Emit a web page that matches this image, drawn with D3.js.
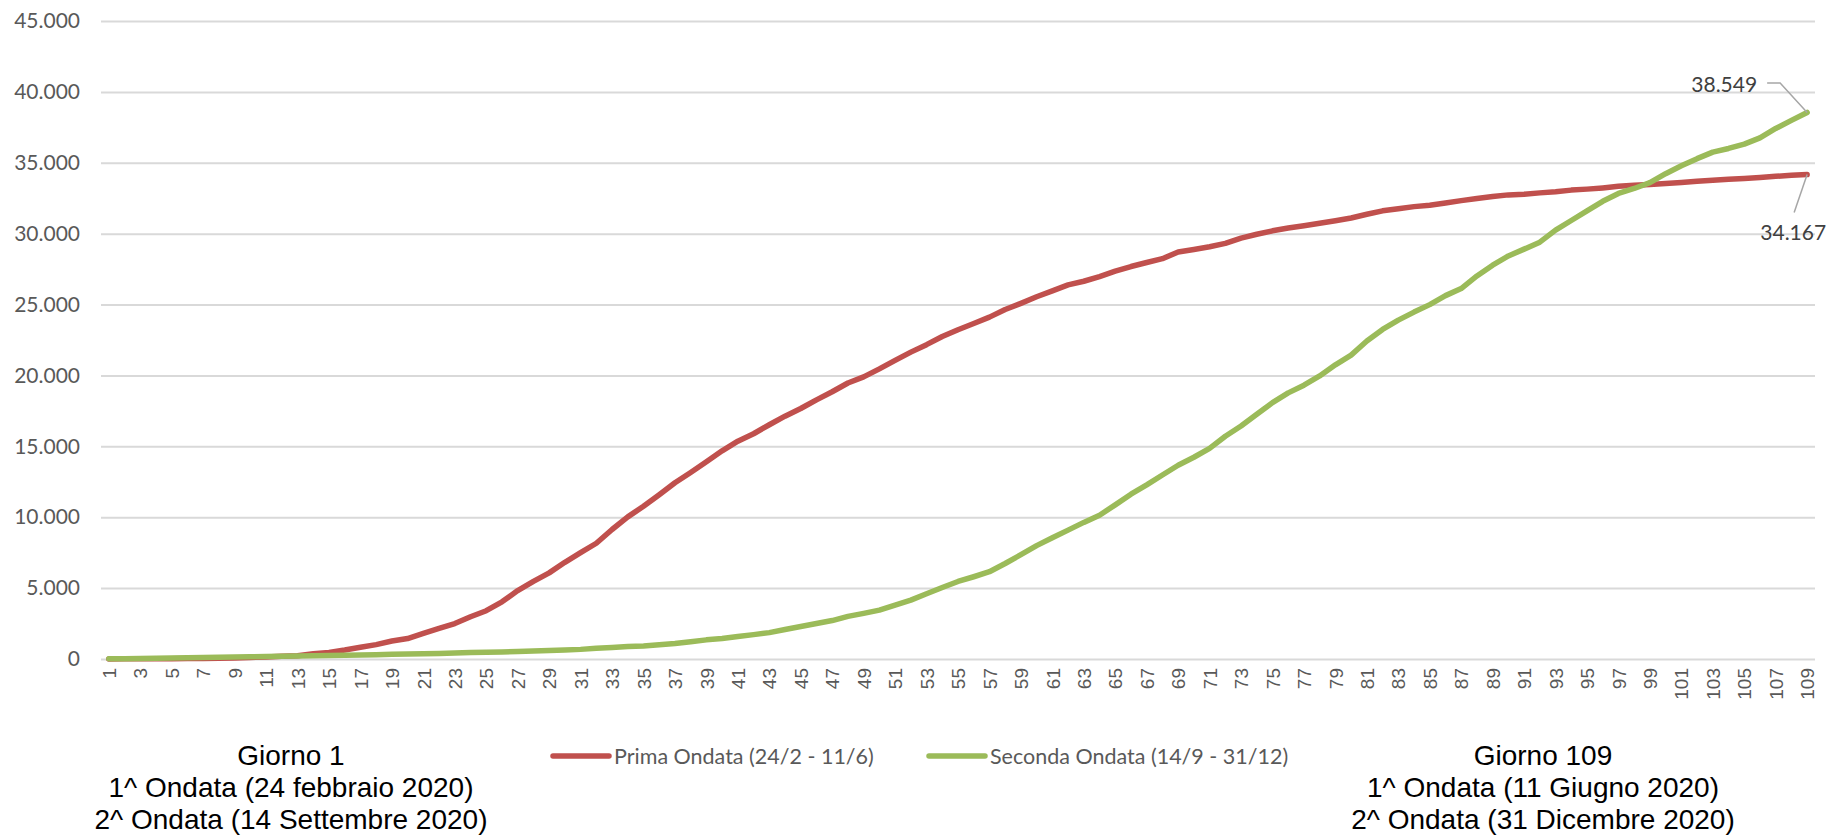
<!DOCTYPE html>
<html lang="it">
<head>
<meta charset="utf-8">
<script src="https://cdn.jsdelivr.net/npm/d3@7"></script>
<style>
  html, body { margin: 0; padding: 0; background: #ffffff; }
  svg { display: block; }
</style>
</head>
<body>
<svg id="chart" width="1829" height="835"></svg>
<script>
// Giorni dall'inizio di ciascuna ondata (1..109)
const days = [
  1,2,3,4,5,6,7,8,9,10,11,12,13,14,15,16,17,18,19,20,
  21,22,23,24,25,26,27,28,29,30,31,32,33,34,35,36,37,38,39,40,
  41,42,43,44,45,46,47,48,49,50,51,52,53,54,55,56,57,58,59,60,
  61,62,63,64,65,66,67,68,69,70,71,72,73,74,75,76,77,78,79,80,
  81,82,83,84,85,86,87,88,89,90,91,92,93,94,95,96,97,98,99,100,
  101,102,103,104,105,106,107,108,109
];

// Prima ondata (24/2 - 11/6): decessi cumulati
const primaOndata = [
  7,10,12,17,21,29,34,52,79,107,148,197,233,366,463,631,827,1016,1266,1441,
  1809,2158,2503,2978,3405,4032,4825,5476,6077,6820,7503,8165,9134,10023,10779,11591,12428,13155,13915,14681,
  15362,15887,16523,17127,17669,18279,18849,19468,19899,20465,21067,21645,22170,22745,23227,23660,24114,24648,25085,25549,
  25969,26384,26644,26977,27359,27682,27967,28236,28710,28884,29079,29315,29684,29958,30201,30395,30560,30739,30911,31106,
  31368,31610,31763,31908,32007,32169,32330,32486,32616,32735,32785,32877,32955,33072,33142,33229,33340,33415,33475,33530,
  33601,33689,33774,33846,33899,33964,34043,34114,34167
];

// Seconda ondata (14/9 - 31/12): decessi cumulati dal 14 settembre
const secondaOndata = [
  14,23,44,54,64,88,103,117,137,157,177,190,214,231,247,267,284,308,331,358,
  376,392,420,451,473,501,530,556,595,636,679,762,809,878,925,998,1087,1214,1350,1441,
  1592,1720,1861,2082,2287,2504,2711,3008,3216,3449,3802,4154,4599,5045,5470,5801,6157,6737,7360,7996,
  8546,9090,9636,10140,10871,11624,12277,12976,13668,14230,14860,15713,16435,17257,18084,18770,19311,19966,20751,21435,
  22428,23242,23904,24468,24996,25630,26129,27016,27777,28426,28910,29401,30247,30927,31610,32284,32837,33189,33604,34232,
  34785,35290,35749,36010,36315,36760,37419,37994,38549
];

const yTicks = [0,5000,10000,15000,20000,25000,30000,35000,40000,45000];
const xTickDays = days.filter(d => d % 2 === 1);

const seriesNames = ["Prima Ondata (24/2 - 11/6)", "Seconda Ondata (14/9 - 31/12)"];
const seriesColors = ["#C0504D", "#9BBB59"];

const noteLeft = ["Giorno 1", "1^ Ondata (24 febbraio 2020)", "2^ Ondata (14 Settembre 2020)"];
const noteRight = ["Giorno 109", "1^ Ondata (11 Giugno 2020)", "2^ Ondata (31 Dicembre 2020)"];

// Formato numerico italiano: 45.000
const it = d3.formatLocale({ decimal: ",", thousands: ".", grouping: [3], currency: ["€", ""] });
const fmt = it.format(",");

const svg = d3.select("#chart");
const plot = { left: 101, right: 1815, top: 21, bottom: 659 };

const x = d3.scalePoint().domain(days).range([plot.left, plot.right]).padding(0.5);
const y = d3.scaleLinear().domain([0, 45000]).range([plot.bottom, plot.top]);

// Griglia orizzontale
svg.append("g")
  .attr("transform", `translate(${plot.left},0)`)
  .call(d3.axisLeft(y).tickValues(yTicks).tickSize(-(plot.right - plot.left)).tickFormat(""))
  .call(g => g.select(".domain").remove())
  .call(g => g.selectAll("line").attr("stroke", "#D9D9D9").attr("stroke-width", 2));

// Asse Y
svg.append("g")
  .attr("transform", `translate(${plot.left},0)`)
  .call(d3.axisLeft(y).tickValues(yTicks).tickSize(0).tickPadding(21).tickFormat(fmt))
  .call(g => g.select(".domain").remove())
  .call(g => g.selectAll("text")
    .attr("fill", "#595959")
    .style("font-family", "Lato, 'Open Sans', sans-serif")
    .style("font-size", "21px"));

// Asse X (giorni dispari, etichette verticali)
svg.append("g")
  .attr("transform", `translate(0,${plot.bottom})`)
  .call(d3.axisBottom(x).tickValues(xTickDays).tickSize(0))
  .call(g => g.select(".domain").remove())
  .call(g => g.selectAll("text")
    .attr("fill", "#595959")
    .style("font-family", "'Liberation Sans', Arial, sans-serif")
    .style("font-size", "19px")
    .attr("text-anchor", "end")
    .attr("transform", "rotate(-90)")
    .attr("x", -9)
    .attr("y", 0)
    .attr("dy", "0.35em"));

// Linee delle due ondate
const line = d3.line().x((d, i) => x(days[i])).y(d => y(d));
[primaOndata, secondaOndata].forEach((s, k) => {
  svg.append("path")
    .datum(s)
    .attr("fill", "none")
    .attr("stroke", seriesColors[k])
    .attr("stroke-width", 5.5)
    .attr("stroke-linejoin", "round")
    .attr("stroke-linecap", "round")
    .attr("d", line);
});

// Etichette del valore finale con linea di richiamo
const lastDay = days[days.length - 1];
const gEnd = [x(lastDay), y(secondaOndata[secondaOndata.length - 1])];
const rEnd = [x(lastDay), y(primaOndata[primaOndata.length - 1])];
const labelFont = "Lato, 'Open Sans', sans-serif";

svg.append("polyline")
  .attr("points", [[gEnd[0] - 40, gEnd[1] - 29.5], [gEnd[0] - 27, gEnd[1] - 29.5], gEnd].map(p => p.join(",")).join(" "))
  .attr("fill", "none").attr("stroke", "#A6A6A6").attr("stroke-width", 1.5);
svg.append("text")
  .attr("x", gEnd[0] - 50).attr("y", gEnd[1] - 20)
  .attr("text-anchor", "end")
  .attr("fill", "#404040")
  .style("font-family", labelFont).style("font-size", "21px")
  .text(fmt(secondaOndata[secondaOndata.length - 1]));

svg.append("line")
  .attr("x1", rEnd[0]).attr("y1", rEnd[1])
  .attr("x2", rEnd[0] - 13).attr("y2", rEnd[1] + 38)
  .attr("stroke", "#A6A6A6").attr("stroke-width", 1.5);
svg.append("text")
  .attr("x", rEnd[0] + 19).attr("y", rEnd[1] + 65)
  .attr("text-anchor", "end")
  .attr("fill", "#404040")
  .style("font-family", labelFont).style("font-size", "21px")
  .text(fmt(primaOndata[primaOndata.length - 1]));

// Legenda
const legendY = 756;
const legend = [
  { x: 553, tx: 614 },
  { x: 929, tx: 990 }
];
legend.forEach((l, k) => {
  svg.append("line")
    .attr("x1", l.x).attr("x2", l.tx - 5)
    .attr("y1", legendY).attr("y2", legendY)
    .attr("stroke", seriesColors[k]).attr("stroke-width", 5.5).attr("stroke-linecap", "round");
  svg.append("text")
    .attr("x", l.tx).attr("y", legendY)
    .attr("dy", "0.35em")
    .attr("fill", "#595959")
    .style("font-family", labelFont).style("font-size", "21.5px")
    .text(seriesNames[k]);
});

// Note sotto l'asse: primo e ultimo giorno
const noteFont = "'Liberation Sans', Arial, sans-serif";
[[noteLeft, 291], [noteRight, 1543]].forEach(([lines, cx]) => {
  const t = svg.append("text")
    .attr("text-anchor", "middle")
    .attr("fill", "#000000")
    .style("font-family", noteFont).style("font-size", "28px");
  lines.forEach((s, i) => {
    t.append("tspan").attr("x", cx).attr("y", 765 + i * 32).text(s);
  });
});
</script>
</body>
</html>
